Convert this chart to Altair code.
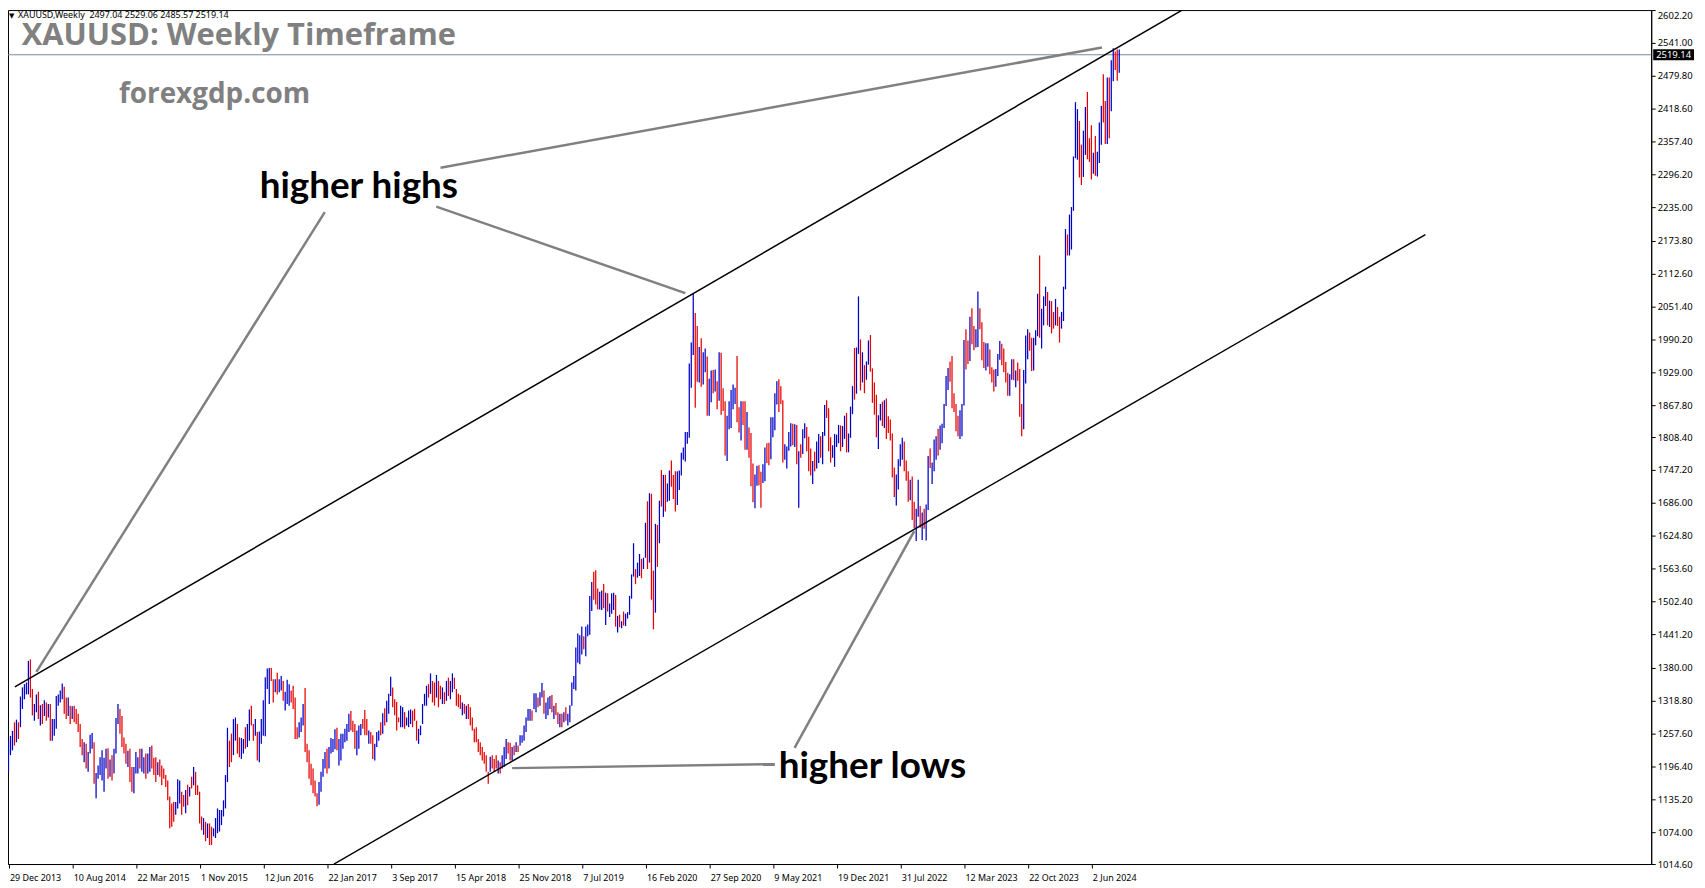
import json
import altair as alt
import pandas as pd

# ---------------- axis ticks ----------------
x_label_weeks = [0, 32, 64, 96, 128, 160, 192, 224, 256, 288, 320, 352, 384, 416, 448, 480, 512, 544]
x_labels = ['29 Dec 2013', '10 Aug 2014', '22 Mar 2015', '1 Nov 2015', '12 Jun 2016', '22 Jan 2017',
            '3 Sep 2017', '15 Apr 2018', '25 Nov 2018', '7 Jul 2019', '16 Feb 2020', '27 Sep 2020',
            '9 May 2021', '19 Dec 2021', '31 Jul 2022', '12 Mar 2023', '22 Oct 2023', '2 Jun 2024']
y_ticks = [1014.6, 1074.0, 1135.2, 1196.4, 1257.6, 1318.8, 1380.0, 1441.2, 1502.4, 1563.6, 1624.8,
           1686.0, 1747.2, 1808.4, 1867.8, 1929.0, 1990.2, 2051.4, 2112.6, 2173.8, 2235.0, 2296.2,
           2357.4, 2418.6, 2479.8, 2541.0, 2602.2]

# ---------------- weekly bars (week 0 = 29 Dec 2013) ----------------
highs = [
    1244, 1253, 1262, 1278, 1283, 1278, 1326, 1343, 1349, 1352,
    1392, 1395, 1340, 1312, 1330, 1335, 1310, 1312, 1319, 1315,
    1312, 1312, 1284, 1284, 1327, 1330, 1337, 1350, 1344, 1324,
    1324, 1309, 1308, 1309, 1303, 1294, 1275, 1247, 1241, 1238,
    1223, 1255, 1258, 1241, 1184, 1198, 1213, 1226, 1212, 1229,
    1230, 1209, 1217, 1229, 1286, 1312, 1303, 1290, 1250, 1238,
    1225, 1229, 1195, 1195, 1223, 1213, 1229, 1229, 1213, 1220,
    1220, 1232, 1235, 1212, 1213, 1204, 1209, 1198, 1192, 1180,
    1170, 1140, 1127, 1130, 1130, 1172, 1170, 1149, 1143, 1152,
    1162, 1158, 1177, 1195, 1186, 1161, 1149, 1103, 1100, 1093,
    1090, 1090, 1084, 1081, 1100, 1118, 1115, 1115, 1133, 1180,
    1268, 1244, 1257, 1284, 1287, 1275, 1250, 1249, 1247, 1269,
    1275, 1302, 1309, 1275, 1284, 1260, 1261, 1284, 1319, 1362,
    1378, 1379, 1379, 1358, 1358, 1370, 1358, 1364, 1355, 1335,
    1357, 1349, 1337, 1346, 1324, 1269, 1278, 1287, 1312,
    1342, 1238, 1226, 1201, 1192, 1170, 1146, 1167, 1186, 1210,
    1223, 1229, 1232, 1249, 1247, 1265, 1268, 1247, 1257, 1257,
    1266, 1275, 1294, 1299, 1281, 1275, 1263, 1272, 1275, 1284,
    1301, 1284, 1263, 1260, 1254, 1238, 1260, 1263, 1278, 1295,
    1304, 1318, 1331, 1363, 1343, 1321, 1316, 1287, 1309, 1306,
    1297, 1287, 1300, 1302, 1300, 1303, 1281, 1266, 1272, 1312,
    1331, 1346, 1349, 1369, 1355, 1352, 1366, 1355, 1346, 1343,
    1334, 1355, 1361, 1355, 1369, 1361, 1340, 1331, 1329, 1315,
    1312, 1309, 1312, 1306, 1287, 1266, 1269, 1247, 1241, 1232,
    1223, 1217, 1186, 1214, 1217, 1210, 1217, 1207, 1204, 1217,
    1232, 1247, 1241, 1240, 1232, 1235, 1241, 1235, 1254, 1254,
    1272, 1287, 1303, 1303, 1300, 1332, 1332, 1324, 1334, 1351,
    1337, 1315, 1324, 1327, 1329, 1309, 1314, 1297, 1294, 1294,
    1297, 1306, 1294, 1310, 1352, 1364, 1417, 1443, 1440, 1456,
    1438, 1456, 1460, 1513, 1539, 1558, 1561, 1527, 1521, 1523,
    1535, 1519, 1518, 1499, 1518, 1519, 1515, 1476, 1478, 1466,
    1484, 1480, 1483, 1513, 1553, 1611, 1563, 1575, 1591, 1582,
    1584, 1649, 1689, 1704, 1703, 1560, 1647, 1645, 1690, 1747,
    1738, 1738, 1722, 1746, 1765, 1738, 1745, 1745, 1746, 1779,
    1789, 1818, 1818, 1945, 1984, 2075, 2039, 2015, 1976, 1992,
    1966, 1973, 1958, 1917, 1932, 1933, 1934, 1912, 1966, 1965,
    1899, 1875, 1848, 1875, 1896, 1906, 1900, 1959, 1864, 1875,
    1875, 1875, 1855, 1826, 1816, 1759, 1739, 1755, 1756, 1744,
    1758, 1789, 1797, 1798, 1845, 1845, 1890, 1912, 1916, 1903,
    1877, 1795, 1791, 1818, 1834, 1833, 1832, 1831, 1782, 1795,
    1823, 1834, 1827, 1809, 1787, 1764, 1781, 1800, 1814, 1810,
    1818, 1868, 1877, 1862, 1808, 1793, 1814, 1813, 1831, 1830,
    1829, 1848, 1853, 1815, 1865, 1903, 1974, 1975, 2070, 1990,
    1966, 1942, 1949, 1988, 1998, 1936, 1910, 1887, 1849, 1870,
    1874, 1877, 1880, 1847, 1841, 1815, 1752, 1739, 1767, 1795,
    1807, 1800, 1765, 1745, 1729, 1735, 1688, 1675, 1729, 1680,
    1668, 1675, 1683, 1773, 1787, 1761, 1804, 1810, 1824, 1830,
    1833, 1870, 1922, 1937, 1949, 1959, 1890, 1870, 1848, 1858,
    1870, 1989, 2009, 1988, 2032, 2048, 2015, 2009, 2079, 2048,
    2022, 1985, 1983, 1983, 1971, 1938, 1934, 1935, 1963, 1987,
    1982, 1973, 1948, 1928, 1925, 1953, 1953, 1932, 1947, 1935,
    1870, 1933, 1997, 2009, 2003, 1993, 1993, 2007, 2075, 2146,
    2047, 2070, 2088, 2078, 2062, 2061, 2041, 2065, 2050, 2032,
    2041, 2088, 2195, 2185, 2222, 2236, 2330, 2431, 2418, 2396,
    2352, 2378, 2422, 2450, 2364, 2388, 2337, 2368, 2339, 2393,
    2424, 2483, 2433, 2477, 2477, 2509, 2531, 2525, 2529, 2529.06,
]
lows = [
    1186, 1217, 1226, 1235, 1241, 1247, 1269, 1303, 1321, 1330,
    1330, 1324, 1291, 1281, 1297, 1284, 1272, 1275, 1290, 1281,
    1287, 1244, 1244, 1253, 1266, 1309, 1315, 1321, 1294, 1284,
    1290, 1275, 1284, 1278, 1275, 1260, 1232, 1217, 1204, 1192,
    1186, 1220, 1229, 1164, 1137, 1173, 1180, 1170, 1149, 1192,
    1173, 1177, 1170, 1183, 1220, 1275, 1257, 1232, 1220, 1201,
    1195, 1167, 1149, 1146, 1183, 1183, 1192, 1186, 1183, 1173,
    1183, 1186, 1192, 1180, 1167, 1180, 1177, 1161, 1173, 1158,
    1133, 1081, 1084, 1093, 1106, 1118, 1127, 1106, 1121, 1109,
    1124, 1140, 1155, 1161, 1143, 1143, 1090, 1078, 1069, 1057,
    1063, 1050, 1050, 1066, 1063, 1072, 1075, 1087, 1103, 1118,
    1167, 1195, 1204, 1217, 1244, 1220, 1213, 1210, 1220, 1229,
    1232, 1244, 1272, 1244, 1253, 1207, 1204, 1238, 1253, 1252,
    1340, 1312, 1355, 1315, 1334, 1330, 1334, 1337, 1318, 1300,
    1312, 1309, 1315, 1303, 1247, 1247, 1250, 1260, 1272,
    1223, 1204, 1173, 1161, 1146, 1140, 1122, 1125, 1149, 1177,
    1192, 1183, 1192, 1220, 1223, 1228, 1226, 1198, 1207, 1229,
    1241, 1244, 1260, 1263, 1260, 1229, 1217, 1229, 1254, 1266,
    1254, 1254, 1238, 1238, 1210, 1207, 1232, 1244, 1254, 1257,
    1272, 1278, 1294, 1327, 1306, 1291, 1263, 1278, 1269, 1269,
    1266, 1272, 1269, 1275, 1269, 1281, 1244, 1238, 1254, 1275,
    1309, 1309, 1324, 1331, 1315, 1309, 1324, 1306, 1321, 1312,
    1312, 1318, 1327, 1321, 1334, 1340, 1309, 1306, 1303, 1291,
    1294, 1284, 1284, 1272, 1263, 1241, 1241, 1223, 1217, 1207,
    1201, 1186, 1164, 1186, 1192, 1186, 1192, 1183, 1183, 1192,
    1195, 1210, 1220, 1207, 1207, 1217, 1223, 1223, 1235, 1240,
    1244, 1260, 1281, 1281, 1281, 1303, 1297, 1306, 1309, 1324,
    1294, 1284, 1291, 1303, 1297, 1284, 1291, 1275, 1269, 1269,
    1278, 1281, 1272, 1278, 1309, 1340, 1337, 1389, 1386, 1404,
    1414, 1401, 1438, 1441, 1485, 1506, 1497, 1488, 1488, 1487,
    1490, 1459, 1484, 1474, 1480, 1487, 1456, 1445, 1455, 1453,
    1458, 1457, 1471, 1478, 1508, 1549, 1535, 1547, 1550, 1546,
    1563, 1584, 1563, 1575, 1506, 1451, 1482, 1567, 1611, 1679,
    1660, 1670, 1688, 1690, 1716, 1693, 1670, 1682, 1710, 1737,
    1766, 1763, 1796, 1807, 1900, 1961, 1863, 1911, 1910, 1902,
    1906, 1929, 1848, 1848, 1873, 1890, 1893, 1860, 1876, 1850,
    1857, 1774, 1764, 1823, 1825, 1860, 1870, 1836, 1817, 1802,
    1831, 1785, 1785, 1770, 1717, 1687, 1676, 1718, 1719, 1677,
    1723, 1726, 1760, 1756, 1767, 1808, 1821, 1869, 1855, 1870,
    1761, 1766, 1750, 1783, 1791, 1793, 1790, 1758, 1677, 1770,
    1777, 1806, 1782, 1745, 1737, 1721, 1745, 1750, 1760, 1770,
    1758, 1811, 1844, 1782, 1761, 1770, 1753, 1790, 1797, 1782,
    1790, 1805, 1780, 1780, 1807, 1851, 1878, 1889, 1963, 1895,
    1910, 1890, 1915, 1943, 1930, 1872, 1850, 1808, 1786, 1839,
    1829, 1825, 1805, 1816, 1802, 1733, 1697, 1681, 1711, 1754,
    1766, 1745, 1727, 1688, 1691, 1654, 1639, 1615, 1660, 1640,
    1617, 1638, 1616, 1673, 1751, 1721, 1745, 1766, 1774, 1785,
    1797, 1825, 1866, 1896, 1911, 1862, 1855, 1819, 1810, 1805,
    1810, 1867, 1934, 1944, 1950, 1981, 1970, 1975, 1976, 2009,
    1951, 1937, 1932, 1939, 1925, 1910, 1893, 1902, 1922, 1952,
    1942, 1929, 1910, 1885, 1885, 1915, 1914, 1901, 1913, 1846,
    1810, 1823, 1908, 1953, 1969, 1931, 1932, 1979, 1996, 1993,
    1973, 2016, 2052, 2016, 2013, 2001, 2010, 2016, 2015, 1984,
    2010, 2024, 2083, 2146, 2146, 2157, 2229, 2327, 2324, 2291,
    2277, 2292, 2333, 2325, 2320, 2287, 2298, 2294, 2293, 2318,
    2352, 2393, 2353, 2353, 2364, 2414, 2470, 2491, 2471, 2485.57,
]
# u = up bar (blue), d = down bar (red)
dirs = "".join([
    "uuududuuuu", "udduududud", "uduuuuuudd", "ududddddud", "uuuduuuuuu",
    "duduuudddd", "udduuuduud", "uudddudddd", "dddduuuddu", "dududdddud",
    "udduuuuuuu", "udduudduud", "uudduduuuu", "uudduduudu", "uudddduuu",
    "ddddddduuu", "uduuuuduuu", "uuuddduuud", "ddudduuudu", "duuudddduu",
    "duuuddduuu", "uududduddu", "duduuddddu", "dudddddddd", "dddudddudu",
    "uuddududuu", "uuuuduuduu", "duuududdud", "uduuuuuuuu", "duuuuddduu",
    "duduuududu", "duuuuuduud", "uududdudud", "uduuddduuu", "uuuuuuddud",
    "uuduududud", "dduuuuuddu", "dduddduudd", "uudduuuudd", "duuuududud",
    "uuddduduud", "uuddduuuud", "uuduuuduud", "uduudddduu", "duddddduuu",
    "udddudduud", "uduuduuudu", "uuuudddddu", "uuddudduud", "dduuddduuu",
    "dddduududd", "duuudduuud", "uuududdudd", "uuuduuuuud", "duuddduduu",
    "udduduuddu",
])

# ---------------- drawn lines (week, price) ----------------
channel_week = [3.2, 594.5, 163.5, 711.8]
channel_price = [1344.0, 2612.6, 1014.6, 2184.9]
channel_id = ["upper", "upper", "lower", "lower"]

pointer_week = [14, 158.9, 214.9, 340, 217.05, 549.3, 394.9, 455, 253, 385]
pointer_price = [1372, 2226.7, 2236.8, 2075.9, 2309.1, 2532.6, 1230.4, 1633.5, 1192.9, 1200.3]
pointer_id = ["a", "a", "b", "b", "c", "c", "d", "d", "e", "e"]

annot_week = [176, 434]
annot_price = [2272.7, 1195.6]
annot_text = ["higher highs", "higher lows"]

last_price = [2519.14]

# ---------------- build ----------------
n = min(len(highs), len(lows), len(dirs))
bars_df = pd.DataFrame({"week": list(range(n)), "high": highs[:n], "low": lows[:n], "dir": list(dirs[:n])})

W, H = 1651, 858
xscale = alt.Scale(domain=[-0.25, 825.25], nice=False, zero=False)
yscale = alt.Scale(domain=[1014.6, 2602.2], nice=False, zero=False)

label_expr = f"{json.dumps(x_labels)}[indexof({json.dumps(x_label_weeks)}, datum.value)]"
XAX = alt.Axis(values=x_label_weeks, labelExpr=label_expr, grid=False, orient="bottom", tickSize=4,
               labelPadding=6, labelAlign="left", labelBaseline="top", labelFlush=False,
               labelOverlap=False, labelBound=False, labelFont="Noto Sans", labelFontSize=9,
               labelColor="black", domainColor="black", tickColor="black", title=None, labelOffset=1)
YAX = alt.Axis(values=y_ticks, format=".2f", orient="right", grid=False, tickSize=4, labelPadding=2,
               labelFont="Noto Sans", labelFontSize=9.5, labelColor="black", labelFlush=False,
               labelOverlap=False, labelBound=False, title=None, domainColor="black", tickColor="black",
               labelBaseline={"condition": {"test": "datum.value > 2600", "value": "top"}, "value": "middle"})


def X(field):
    return alt.X(field, scale=xscale, axis=XAX)


def Y(field):
    return alt.Y(field, scale=yscale, axis=YAX)


price_df = pd.DataFrame({"price": last_price})
price_line = alt.Chart(price_df).mark_rule(color="#778899", strokeWidth=1).encode(y=Y("price:Q"))

bars = alt.Chart(bars_df).mark_rule(strokeWidth=1.25).encode(
    x=X("week:Q"),
    y=Y("low:Q"),
    y2="high:Q",
    color=alt.Color("dir:N", scale=alt.Scale(domain=["u", "d"], range=["#0000c8", "#e60000"]), legend=None),
)

ch_df = pd.DataFrame({"week": channel_week, "price": channel_price, "id": channel_id})
channel = alt.Chart(ch_df).mark_line(color="black", strokeWidth=1.5, clip=True).encode(
    x=X("week:Q"), y=Y("price:Q"), detail="id:N")

pt_df = pd.DataFrame({"week": pointer_week, "price": pointer_price, "id": pointer_id})
pointers = alt.Chart(pt_df).mark_line(color="#808080", strokeWidth=2.5).encode(
    x=X("week:Q"), y=Y("price:Q"), detail="id:N")

an_df = pd.DataFrame({"week": annot_week, "price": annot_price, "text": annot_text})
annots = alt.Chart(an_df).mark_text(font="Lato", fontSize=37, fontWeight="bold", color="black",
                                    align="center", baseline="middle").encode(
    x=X("week:Q"), y=Y("price:Q"), text="text:N")

price_box = alt.Chart(price_df).mark_rule(color="black", strokeWidth=11).encode(
    y=Y("price:Q"), x=alt.value(W + 2), x2=alt.value(W + 43))
price_txt = alt.Chart(price_df).mark_text(color="white", font="Noto Sans", fontSize=9.5,
                                          align="center", baseline="middle").encode(
    y=Y("price:Q"), x=alt.value(W + 22.5), text=alt.Text("price:Q", format=".2f"))


def label(text, x, y, size, font, color, weight="normal"):
    return alt.Chart(pd.DataFrame({"t": [text]})).mark_text(
        align="left", baseline="alphabetic", font=font, fontSize=size, fontWeight=weight, color=color
    ).encode(x=alt.value(x), y=alt.value(y), text="t:N")


header_tri = label("\u25bc", 1, 7.5, 7, "DejaVu Sans", "black")
header = label("XAUUSD,Weekly\u00a0 2497.04 2529.06 2485.57 2519.14", 10, 7.5, 9, "Noto Sans", "black")
title = label("XAUUSD: Weekly Timeframe", 13.7, 35.3, 31, "Open Sans", "#808080", "bold")
site = label("forexgdp.com", 111.5, 93.7, 28, "Open Sans", "#808080", "bold")

chart = alt.layer(
    price_line, bars, channel, pointers, annots, price_box, price_txt,
    header_tri, header, title, site,
).properties(
    width=W, height=H,
    autosize=alt.AutoSizeParams(type="none"),
    padding={"left": 0, "top": 0, "right": 46, "bottom": 22},
    background="white",
).configure_view(stroke="black", strokeWidth=1).configure_axis(labelOverlap=False)

chart.save("out.html", embed_options={"renderer": "svg", "actions": False})
